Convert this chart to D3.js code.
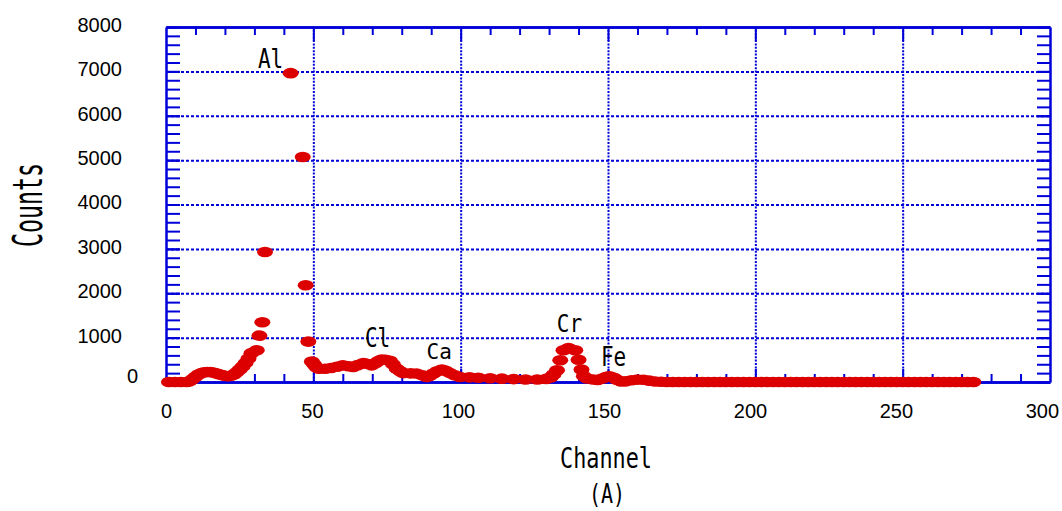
<!DOCTYPE html>
<html>
<head>
<meta charset="utf-8">
<script src="https://cdn.jsdelivr.net/npm/d3@7"></script>
<style>
body { margin: 0; background: #fff; }
svg { display: block; }
</style>
</head>
<body>
<svg width="1062" height="511"></svg>
<script>
// spectrum: channel -> counts
var channel = [1, 3, 5, 7, 8, 9, 10, 11, 12, 13, 14, 15, 16, 17, 18, 19, 20, 21, 22, 23, 24, 25, 26, 27, 28, 29,
    30.8, 31.7, 32.7, 33.6, 42.3, 46.4, 47.4, 48.3, 49.5, 50.2, 51, 52, 54, 56, 58, 60, 62, 63.5, 65, 67, 68, 69.8,
    71, 72, 73.2, 74.5, 76, 77, 78.3, 79.5, 80.5, 83, 85, 87, 88.5, 89.5, 90.7, 92, 93.6, 95, 96.4, 98, 99.8,
    103, 106, 110, 114, 118, 122, 126, 129, 130.5, 131.5, 132.7, 133.8, 134.9, 136.6, 138.9, 140, 141, 141.8,
    143, 145, 146.5, 148, 149.5, 150.5, 152, 153, 154.5, 156, 158, 160, 162, 164, 166, 168,
    170, 172, 174, 176, 178, 180, 182, 184, 186, 188, 190, 192, 194, 196, 198, 200, 202, 204, 206, 208,
    210, 212, 214, 216, 218, 220, 222, 224, 226, 228, 230, 232, 234, 236, 238, 240, 242, 244, 246, 248,
    250, 252, 254, 256, 258, 260, 262, 264, 266, 268, 270, 272, 274];
var counts = [0, 0, 0, 0, 15, 60, 120, 170, 200, 220, 225, 225, 215, 195, 175, 155, 140, 130, 140, 170, 220, 280, 350, 430, 530, 650,
    715, 1045, 1345, 2930, 6960, 5070, 2180, 910, 460, 400, 330, 300, 300, 315, 345, 375, 355, 340, 380, 428, 410, 375,
    420, 470, 505, 500, 480, 400, 300, 240, 200, 195, 190, 150, 113, 140, 189, 240, 280, 250, 200, 150, 113,
    105, 95, 85, 75, 65, 55, 55, 70, 100, 170, 263, 489, 714, 766, 714, 500, 280, 130,
    80, 55, 45, 80, 120, 128, 95, 50, 10, 15, 40, 54, 50, 30, 12, 5,
    0, 0, 0, 0, 0, 0, 0, 0, 0, 0, 0, 0, 0, 0, 0, 0, 0, 0, 0, 0,
    0, 0, 0, 0, 0, 0, 0, 0, 0, 0, 0, 0, 0, 0, 0, 0, 0, 0, 0, 0,
    0, 0, 0, 0, 0, 0, 0, 0, 0, 0, 0, 0, 0];

var xTicks = [0, 50, 100, 150, 200, 250, 300];
var yTicks = [0, 1000, 2000, 3000, 4000, 5000, 6000, 7000, 8000];

var peakNames = ["Al", "Cl", "Ca", "Cr", "Fe"];
var peakChannel = [35.5, 71.8, 92.7, 136.9, 151.9];
var peakCounts = [7076, 789, 518, 1127, 361];

var blue = "#0000d8",
    red = "#dc0000";

var svg = d3.select("svg"),
    margin = {top: 27, right: 12, bottom: 129, left: 166},
    width = +svg.attr("width") - margin.left - margin.right,
    height = +svg.attr("height") - margin.top - margin.bottom;

var x = d3.scaleLinear().domain([0, 300]).range([0, width]),
    y = d3.scaleLinear().domain([0, 8000]).range([height, 0]);

var g = svg.append("g")
    .attr("transform", "translate(" + margin.left + "," + margin.top + ")");

var minorX = d3.range(10, 300, 10).filter(function(v) { return v % 50 != 0; }),
    majorX = [50, 100, 150, 200, 250],
    minorY = d3.range(200, 8000, 200);

// dotted grid
g.append("g")
    .attr("class", "grid")
    .call(d3.axisLeft(y).tickValues([1000, 2000, 3000, 4000, 5000, 6000, 7000]).tickSize(-width).tickFormat(""))
    .call(function(s) {
        s.select(".domain").remove();
        s.selectAll("line").attr("stroke", blue).attr("stroke-width", 2).attr("stroke-dasharray", "3,2");
    });

g.append("g")
    .attr("class", "grid")
    .attr("transform", "translate(0," + height + ")")
    .call(d3.axisBottom(x).tickValues(majorX).tickSize(-height).tickFormat(""))
    .call(function(s) {
        s.select(".domain").remove();
        s.selectAll("line").attr("stroke", blue).attr("stroke-width", 2).attr("stroke-dasharray", "2,1.4");
    });

// inward ticks on all four sides
function frame(axis, tr, values, size) {
    g.append("g")
        .attr("transform", tr)
        .call(axis.tickValues(values).tickSizeInner(-size).tickSizeOuter(0).tickFormat(""))
        .call(function(s) {
            s.select(".domain").attr("stroke", blue).attr("stroke-width", 2.5);
            s.selectAll("line").attr("stroke", blue).attr("stroke-width", 2);
        });
}
frame(d3.axisLeft(y), "translate(0,0)", minorY.concat(yTicks), 14);
frame(d3.axisRight(y), "translate(" + width + ",0)", minorY.concat(yTicks), 13);
frame(d3.axisTop(x), "translate(0,0)", minorX, 8);
frame(d3.axisTop(x), "translate(0,0)", majorX, 14);
frame(d3.axisBottom(x), "translate(0," + height + ")", minorX, 8);
frame(d3.axisBottom(x), "translate(0," + height + ")", majorX, 13);

// tick labels
var labelFont = "'Liberation Sans', Arial, sans-serif";

g.append("g")
    .call(d3.axisLeft(y).tickValues(yTicks).tickSize(0).tickPadding(44).tickFormat(d3.format("d")))
    .call(function(s) {
        s.select(".domain").remove();
        s.selectAll("text")
            .attr("font-family", labelFont)
            .attr("font-size", 20)
            .attr("fill", "#000")
            .attr("dy", "0.22em");
        s.selectAll(".tick").filter(function(d) { return d == 0; }).select("text")
            .attr("x", -28)
            .attr("dy", "0em");
    });

g.append("g")
    .attr("transform", "translate(0," + height + ")")
    .call(d3.axisBottom(x).tickValues(xTicks).tickSize(0).tickPadding(22).tickFormat(d3.format("d")))
    .call(function(s) {
        s.select(".domain").remove();
        s.selectAll("text")
            .attr("font-family", labelFont)
            .attr("font-size", 20)
            .attr("fill", "#000")
            .attr("x", function(d) { return -d * 0.027; });
    });

// points
g.append("g")
    .selectAll("ellipse")
    .data(d3.zip(channel, counts))
    .enter().append("ellipse")
    .attr("cx", function(d) { return x(d[0]); })
    .attr("cy", function(d) { return y(d[1]); })
    .attr("rx", 8)
    .attr("ry", 5.3)
    .attr("fill", red);

// narrow tall lettering
var monoFont = "'DejaVu Sans Mono', monospace";

function tallText(parent, tx, ty, str, sx, sy, rot) {
    parent.append("text")
        .attr("transform", "translate(" + tx + "," + ty + ")" + (rot ? " rotate(" + rot + ")" : "") +
            " scale(" + sx + "," + sy + ")")
        .attr("text-anchor", "middle")
        .attr("font-family", monoFont)
        .attr("font-size", 20)
        .attr("fill", "#000")
        .text(str);
}

var peakScale = {Al: 1.37, Cl: 1.37, Ca: 1.1, Cr: 1.25, Fe: 1.32};
peakNames.forEach(function(name, i) {
    tallText(g, x(peakChannel[i]), y(peakCounts[i]), name, 1.05, peakScale[name]);
});

tallText(svg, 606, 468, "Channel", 1.09, 1.44);
tallText(svg, 41.5, 205, "Counts", 1.16, 2.0, -90);
tallText(svg, 607, 503, "(A)", 1.0, 1.3);
</script>
</body>
</html>
